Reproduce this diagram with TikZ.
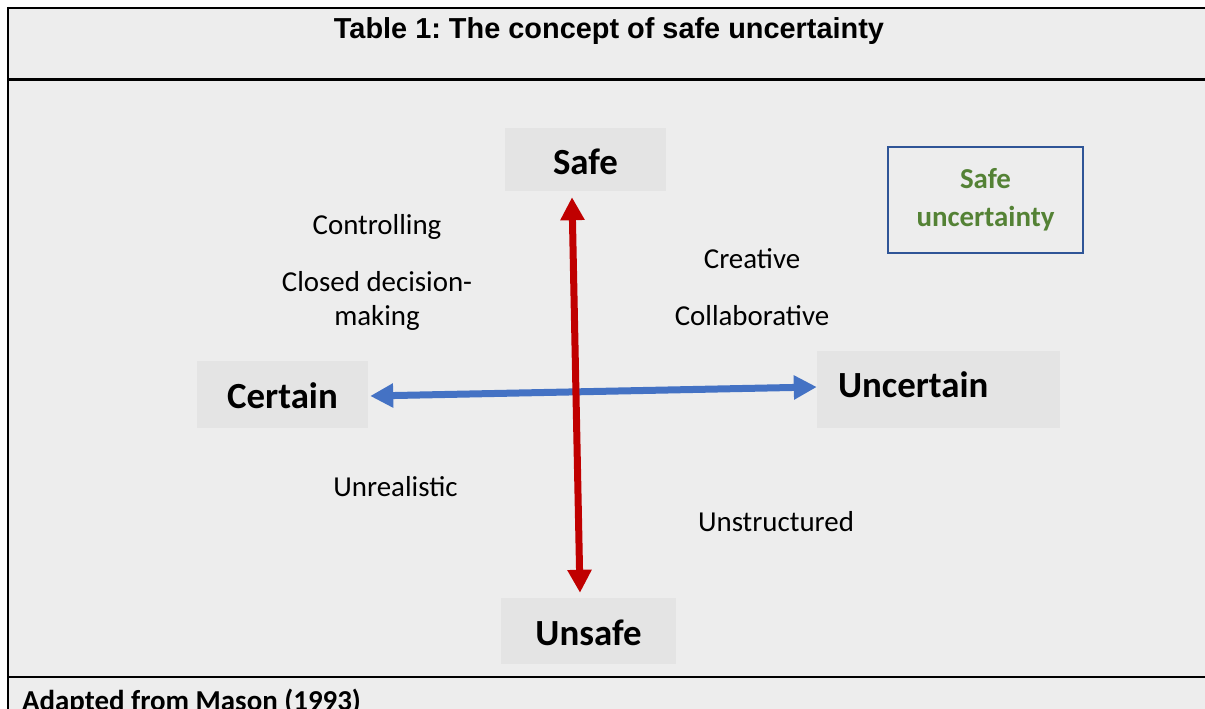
\documentclass[tikz,border=0pt]{standalone}
\usepackage{fontspec}
\setmainfont{Carlito}
\newfontfamily\titlefont{Liberation Sans}
\usetikzlibrary{arrows.meta,calc}
\definecolor{cellgrey}{HTML}{EDEDED}
\definecolor{boxgrey}{HTML}{E4E4E4}
\definecolor{axisred}{HTML}{C00000}
\definecolor{axisblue}{HTML}{4472C4}
\definecolor{frameblue}{HTML}{2F5597}
\definecolor{leafgreen}{HTML}{548235}

\begin{document}
\frenchspacing
\begin{tikzpicture}[x=1bp,y=-1bp,
  rule/.style={line width=2.3bp,black},
  polebox/.style={fill=boxgrey,inner sep=0pt,font=\fontsize{37}{44}\selectfont\bfseries},
  note/.style={inner sep=0pt,anchor=base,font=\fontsize{29}{35}\selectfont},
  axis/.style={line width=7bp,{Triangle[width=23bp,length=23bp]}-{Triangle[width=23bp,length=23bp]}}
]
\useasboundingbox (0,0) rectangle (1205,709);

% table cells and rules (the table runs on past the right edge)
\fill[cellgrey] (8,8) rectangle (1206,710);
\draw[rule] (8,7) -- (8,710);
\draw[rule] (7,8) -- (1206,8);
\draw[rule] (8,79.5) -- (1206,79.5);
\draw[rule] (8,677) -- (1206,677);

\node[anchor=base,inner sep=0pt,font=\titlefont\fontsize{29}{35}\selectfont\bfseries] (title) at (609,39) {Table 1: The concept of safe uncertainty};

% the four poles
\node[polebox,minimum width=161bp,minimum height=63bp,text height=31bp,text depth=0pt] (safe) at (585.5,159.5) {Safe};
\node[polebox,minimum width=171bp,minimum height=67bp,text height=27bp,text depth=0pt] (cert) at (282.5,394.5) {Certain};
\node[polebox,text width=201bp,inner xsep=21bp,align=left,minimum height=77bp,text height=25bp,text depth=10bp] (unc) at (938.5,389.5) {Uncertain};
\node[polebox,minimum width=175bp,minimum height=66bp,text height=28bp,text depth=0pt] (unsafe) at (588.5,631) {Unsafe};

% highlighted quadrant
\node[draw=frameblue,line width=2bp,minimum width=195bp,minimum height=106bp,align=center,
      text=leafgreen,font=\fontsize{29}{38}\selectfont\bfseries,inner sep=0pt] (su) at (985.5,200) {Safe\\uncertainty};

% axes
\draw[axis,axisblue] ([xshift=2bp,yshift=-1.5bp]cert.east) -- ([yshift=2.5bp]unc.west);
\draw[axis,axisred] ([xshift=-13.5bp,yshift=-6bp]safe.south) -- ([xshift=-8.5bp,yshift=5bp]unsafe.north);

% quadrant descriptions
\node[note] (ctrl) at (377,234.5) {Controlling};
\node[inner sep=0pt,align=center,font=\fontsize{29}{35}\selectfont] (closed) at (377,301) {Closed decision-\\making};
\node[note] (creat) at (752,268) {Creative};
\node[note] (collab) at (752,325) {Collaborative};
\node[note] (unreal) at (395.5,496) {Unrealistic};
\node[note] (unstr) at (776,531) {Unstructured};

\node[anchor=base west,inner sep=0pt,font=\fontsize{29}{35}\selectfont\bfseries] (src) at (22,710) {Adapted from Mason (1993)};
\end{tikzpicture}
\end{document}
